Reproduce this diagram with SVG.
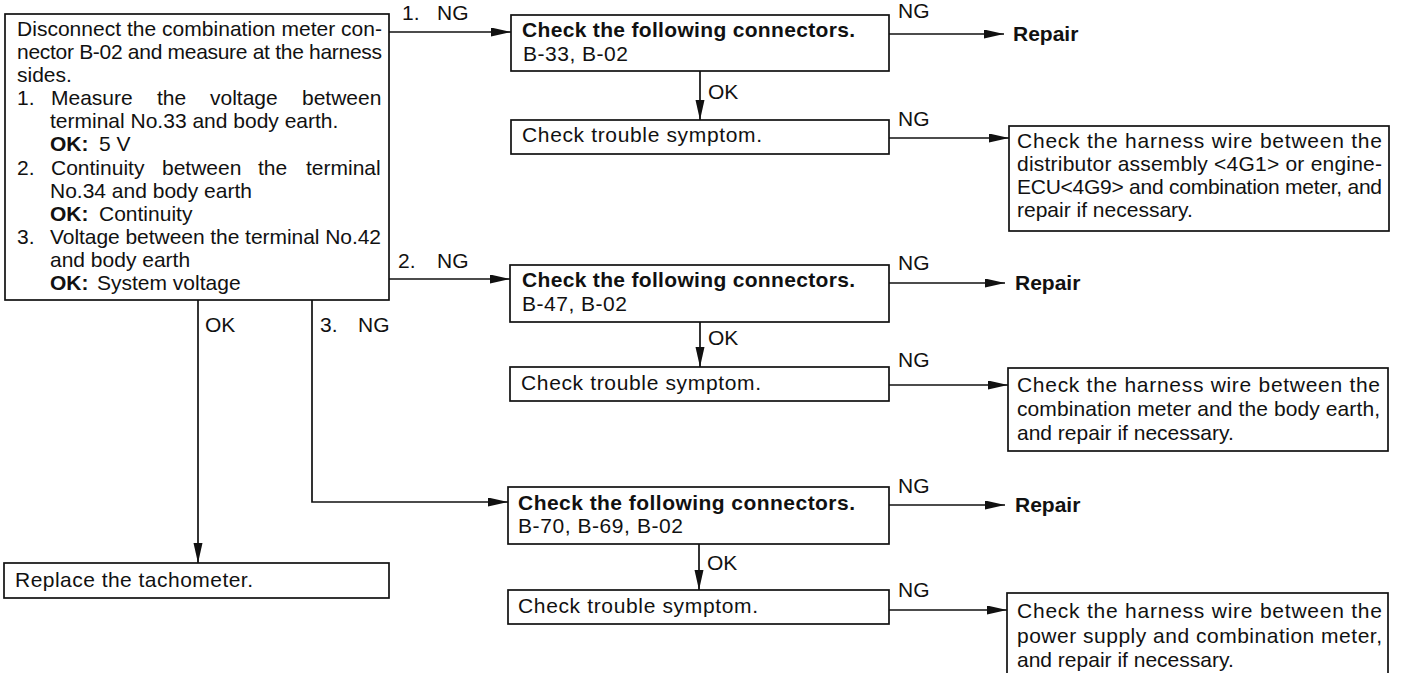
<svg xmlns="http://www.w3.org/2000/svg" width="1411" height="673" viewBox="0 0 1411 673">
<style>
text{font-family:"Liberation Sans",Arial,sans-serif;font-size:21px;fill:#111}
.b{font-weight:bold}
.box{fill:#fff;stroke:#111;stroke-width:1.7}
.ln{fill:none;stroke:#111;stroke-width:1.7}
</style>
<defs>
<marker id="ah" markerUnits="userSpaceOnUse" markerWidth="20" markerHeight="10" refX="20" refY="4.5" orient="auto">
<path d="M0,0 L20,4.5 L0,9 z" fill="#111"/>
</marker>
</defs>
<rect width="1411" height="673" fill="#fff"/>

<g id="connectors">
<path class="ln" d="M389,32 H511" marker-end="url(#ah)"/>
<path class="ln" d="M389,279 H510" marker-end="url(#ah)"/>
<path class="ln" d="M198,300 V563" marker-end="url(#ah)"/>
<path class="ln" d="M312,300 V502 H508" marker-end="url(#ah)"/>
<path class="ln" d="M889,34 H1004" marker-end="url(#ah)"/>
<path class="ln" d="M700,71 V120" marker-end="url(#ah)"/>
<path class="ln" d="M889,138 H1009" marker-end="url(#ah)"/>
<path class="ln" d="M889,283 H1005" marker-end="url(#ah)"/>
<path class="ln" d="M700,322 V367" marker-end="url(#ah)"/>
<path class="ln" d="M889,385 H1008" marker-end="url(#ah)"/>
<path class="ln" d="M889,505 H1005" marker-end="url(#ah)"/>
<path class="ln" d="M699,544 V590" marker-end="url(#ah)"/>
<path class="ln" d="M889,610 H1007" marker-end="url(#ah)"/>
<text x="402" y="20">1.<tspan x="437">NG</tspan></text>
<text x="398" y="268">2.<tspan x="437">NG</tspan></text>
<text x="205" y="332">OK</text>
<text x="320" y="332">3.<tspan x="358">NG</tspan></text>
<text x="898" y="18">NG</text>
<text x="708" y="99">OK</text>
<text x="898" y="126">NG</text>
<text x="898" y="270">NG</text>
<text x="708" y="345">OK</text>
<text x="898" y="367">NG</text>
<text x="898" y="493">NG</text>
<text x="707" y="570">OK</text>
<text x="898" y="597">NG</text>
</g>

<g id="start">
<rect class="box" x="5" y="14" width="384" height="286"/>
<text x="17" y="36" textLength="365">Disconnect the combination meter con-</text>
<text x="17" y="59" textLength="365">nector B-02 and measure at the harness</text>
<text x="17" y="82">sides.</text>
<text x="17" y="105">1.</text>
<text y="105"><tspan x="51">Measure</tspan><tspan x="157">the</tspan><tspan x="210">voltage</tspan><tspan x="302">between</tspan></text>
<text x="50" y="128">terminal No.33 and body earth.</text>
<text x="50" y="151" class="b">OK:</text>
<text x="99" y="151">5 V</text>
<text x="17" y="175">2.</text>
<text y="175"><tspan x="51">Continuity</tspan><tspan x="162">between</tspan><tspan x="258">the</tspan><tspan x="306">terminal</tspan></text>
<text x="50" y="198">No.34 and body earth</text>
<text x="50" y="221" class="b">OK:</text>
<text x="99" y="221">Continuity</text>
<text x="17" y="244">3.</text>
<text x="50" y="244" textLength="331">Voltage between the terminal No.42</text>
<text x="50" y="267">and body earth</text>
<text x="50" y="290" class="b">OK:</text>
<text x="97" y="290">System voltage</text>
</g>

<g id="check1">
<rect class="box" x="511" y="15" width="378" height="56"/>
<text x="522" y="37" class="b" textLength="333">Check the following connectors.</text>
<text x="523" y="61" textLength="105">B-33, B-02</text>
</g>
<g id="repair1"><text x="1013" y="41" class="b">Repair</text></g>
<g id="symptom1">
<rect class="box" x="511" y="120" width="378" height="34"/>
<text x="522" y="142" textLength="240">Check trouble symptom.</text>
</g>
<g id="harness1">
<rect class="box" x="1009" y="126" width="380" height="105"/>
<text x="1017" y="148" textLength="365">Check the harness wire between the</text>
<text x="1017" y="171" textLength="365">distributor assembly &lt;4G1&gt; or engine-</text>
<text x="1017" y="194" textLength="365">ECU&lt;4G9&gt; and combination meter, and</text>
<text x="1017" y="217">repair if necessary.</text>
</g>

<g id="check2">
<rect class="box" x="510" y="265" width="379" height="57"/>
<text x="522" y="287" class="b" textLength="333">Check the following connectors.</text>
<text x="522" y="311" textLength="105">B-47, B-02</text>
</g>
<g id="repair2"><text x="1015" y="290" class="b">Repair</text></g>
<g id="symptom2">
<rect class="box" x="510" y="367" width="379" height="34"/>
<text x="521" y="390" textLength="240">Check trouble symptom.</text>
</g>
<g id="harness2">
<rect class="box" x="1008" y="368" width="380" height="83"/>
<text x="1017" y="392" textLength="363">Check the harness wire between the</text>
<text x="1017" y="416" textLength="363">combination meter and the body earth,</text>
<text x="1017" y="440">and repair if necessary.</text>
</g>

<g id="tachometer">
<rect class="box" x="4" y="563" width="385" height="35"/>
<text x="15" y="587" textLength="238">Replace the tachometer.</text>
</g>

<g id="check3">
<rect class="box" x="508" y="487" width="381" height="57"/>
<text x="518" y="510" class="b" textLength="337">Check the following connectors.</text>
<text x="518" y="533" textLength="165">B-70, B-69, B-02</text>
</g>
<g id="repair3"><text x="1015" y="512" class="b">Repair</text></g>
<g id="symptom3">
<rect class="box" x="508" y="590" width="381" height="34"/>
<text x="518" y="613" textLength="240">Check trouble symptom.</text>
</g>
<g id="harness3">
<rect class="box" x="1007" y="593" width="381" height="90"/>
<text x="1017" y="618" textLength="365">Check the harness wire between the</text>
<text x="1017" y="643" textLength="365">power supply and combination meter,</text>
<text x="1017" y="667">and repair if necessary.</text>
</g>
</svg>
